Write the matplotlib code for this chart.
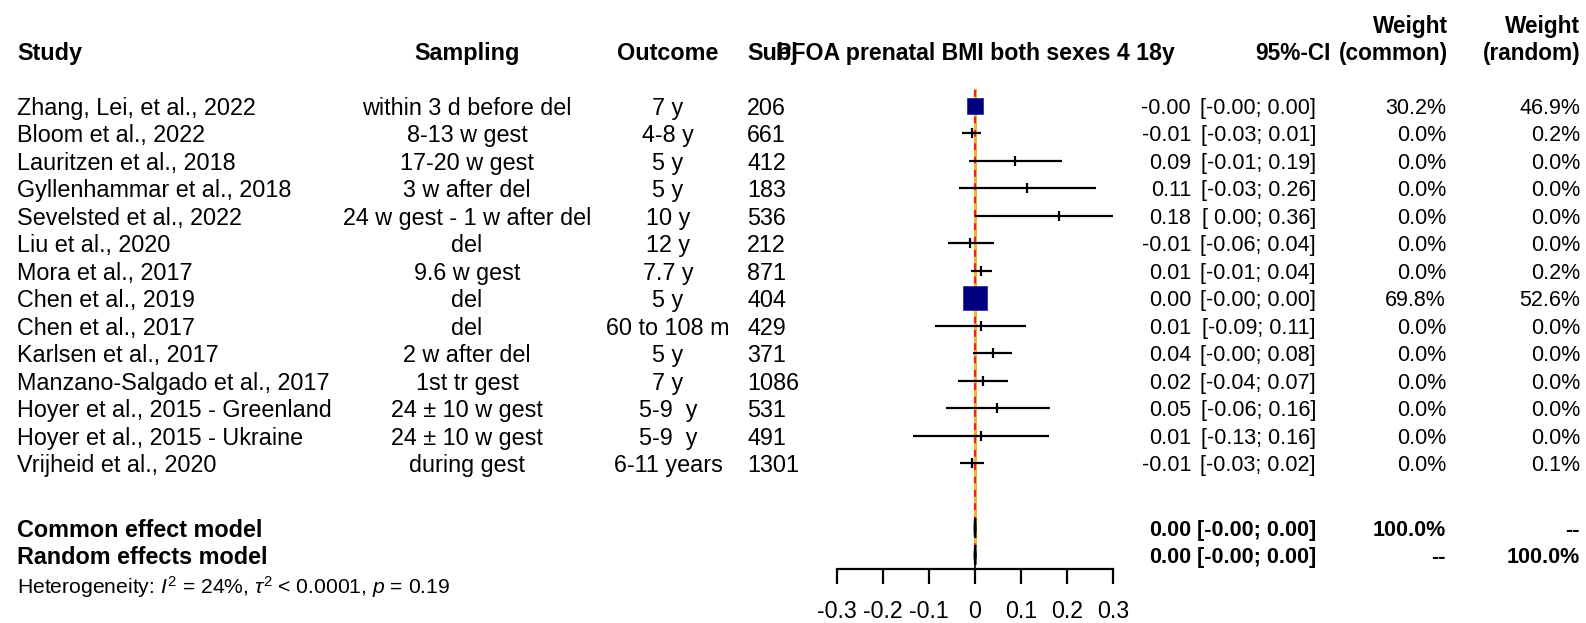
import numpy as np
import matplotlib.pyplot as plt
from matplotlib import transforms

plt.rcParams['font.family'] = ['Liberation Sans', 'DejaVu Sans']
plt.rcParams['mathtext.fontset'] = 'custom'
plt.rcParams['mathtext.rm'] = 'Liberation Sans'
plt.rcParams['mathtext.it'] = 'Liberation Sans:italic'

# Study table
studies = ['Zhang, Lei, et al., 2022', 'Bloom et al., 2022', 'Lauritzen et al., 2018',
           'Gyllenhammar et al., 2018', 'Sevelsted et al., 2022', 'Liu et al., 2020',
           'Mora et al., 2017', 'Chen et al., 2019', 'Chen et al., 2017',
           'Karlsen et al., 2017', 'Manzano-Salgado et al., 2017',
           'Hoyer et al., 2015 - Greenland', 'Hoyer et al., 2015 - Ukraine',
           'Vrijheid et al., 2020']
sampling = ['within 3 d before del', '8-13 w gest', '17-20 w gest', '3 w after del',
            '24 w gest - 1 w after del', 'del', '9.6 w gest', 'del', 'del',
            '2 w after del', '1st tr gest', '24 \u00b1 10 w gest', '24 \u00b1 10 w gest',
            'during gest']
outcome = ['7 y', '4-8 y', '5 y', '5 y', '10 y', '12 y', '7.7 y', '5 y', '60 to 108 m',
           '5 y', '7 y', '5-9  y', '5-9  y', '6-11 years']
subj = [206, 661, 412, 183, 536, 212, 871, 404, 429, 371, 1086, 531, 491, 1301]

# effect estimates and 95% CI
est = [-0.001, -0.007, 0.087, 0.113, 0.183, -0.011, 0.014, 0.0005, 0.012, 0.039,
       0.017, 0.048, 0.013, -0.007]
ci_lo = [-0.003, -0.028, -0.013, -0.034, 0.001, -0.059, -0.009, -0.002, -0.086,
         -0.004, -0.037, -0.063, -0.134, -0.033]
ci_hi = [0.001, 0.014, 0.190, 0.264, 0.363, 0.041, 0.037, 0.003, 0.111, 0.080,
         0.071, 0.162, 0.160, 0.020]
w_common = [30.2, 0.0, 0.0, 0.0, 0.0, 0.0, 0.0, 69.8, 0.0, 0.0, 0.0, 0.0, 0.0, 0.0]
w_random = [46.9, 0.2, 0.0, 0.0, 0.0, 0.0, 0.2, 52.6, 0.0, 0.0, 0.0, 0.0, 0.0, 0.1]

# pooled estimates: est, lower, upper
common_model = [0.0003, -0.0009, 0.0015]
random_model = [0.0004, -0.0010, 0.0018]

title = 'PFOA prenatal BMI both sexes 4 18y'
ticks = [-0.3, -0.2, -0.1, 0, 0.1, 0.2, 0.3]
tick_labels = ['-0.3', '-0.2', '-0.1', '0', '0.1', '0.2', '0.3']

W, H = 1586, 623
fig = plt.figure(figsize=(W / 100, H / 100), dpi=100)

# forest panel, rows are data units (row 0 = first study)
x0, x1 = 837, 1113
row0, row_h = 106, 27.46
ax = fig.add_axes([x0 / W, 0, (x1 - x0) / W, 1])
ax.set_xlim(-0.3, 0.3)
ax.set_ylim((H - row0) / row_h, -row0 / row_h)
ax.patch.set_visible(False)

n = len(studies)
rows = np.arange(n)
gap = 1.37
r_common = n + gap
r_random = r_common + 0.98
r_het = r_random + 1.05
axis_row = (569 - row0) / row_h
top_row = (90 - row0) / row_h

trans = transforms.blended_transform_factory(fig.transFigure, ax.transData)
fs = 16.8      # left columns
fs_r = 15.5    # right-hand values
fs_h = 16.3    # right-hand headers
navy = '#00007f'


def put(px, row, s, ha='left', bold=False, size=fs, **kw):
    ax.text(px / W, row, s, transform=trans, ha=ha, va='center_baseline',
            fontsize=size, fontweight='bold' if bold else 'normal', **kw)


# reference lines
ax.plot([0, 0], [top_row, axis_row], color='black', lw=1.2, zorder=1)
ax.plot([random_model[0]] * 2, [top_row, r_random - 0.35], color='#f2b233', lw=2.2, zorder=2)
ax.plot([random_model[0]] * 2, [top_row, r_random - 0.35], color='#ee2222', lw=1.6,
        dashes=(3, 3), zorder=3)

# study CIs, estimates and weight squares
ax.hlines(rows, ci_lo, ci_hi, color='black', lw=1.6, zorder=4)
ax.plot(est, rows, ls='none', marker='|', ms=6.5, mew=1.6, color='black', zorder=5)
for r, e, w in zip(rows, est, w_common):
    side = 29.9 * np.sqrt(w / 100)
    if side > 2:
        ax.plot(e, r, marker='s', ms=side * 0.72, color=navy, mec='#3030a0', mew=0.6,
                zorder=6)

# pooled diamonds
for r, (e, lo, hi) in ((r_common, common_model), (r_random, random_model)):
    ax.fill([lo, e, hi, e], [r, r - 0.36, r, r + 0.36], facecolor='gray',
            edgecolor='black', lw=1.6, zorder=6)

# x axis
for side in ['top', 'left', 'right']:
    ax.spines[side].set_visible(False)
ax.spines['bottom'].set_position(('data', axis_row))
ax.spines['bottom'].set_linewidth(1.6)
ax.set_yticks([])
ax.set_xticks(ticks)
ax.set_xticklabels(tick_labels)
ax.tick_params(axis='x', direction='out', length=11, width=1.6, pad=11.5, labelsize=16.7)

# header
put(17, -2, 'Study', bold=True)
put(467, -2, 'Sampling', ha='center', bold=True)
put(668, -2, 'Outcome', ha='center', bold=True)
put(747, -2, 'Subj', bold=True)
ax.text(0.5, -2, title, transform=transforms.blended_transform_factory(ax.transAxes, ax.transData),
        ha='center', va='center_baseline', fontsize=16.7, fontweight='bold')
put(1331, -2, '95%-CI', ha='right', bold=True, size=fs_h)
put(1448, -3, 'Weight', ha='right', bold=True, size=fs_h)
put(1448, -2, '(common)', ha='right', bold=True, size=fs_h)
put(1580, -3, 'Weight', ha='right', bold=True, size=fs_h)
put(1580, -2, '(random)', ha='right', bold=True, size=fs_h)

# study rows
for i in range(n):
    put(17, i, studies[i])
    put(467, i, sampling[i], ha='center')
    put(668, i, outcome[i], ha='center')
    put(747, i, str(subj[i]))
    put(1191, i, f'{est[i]:.2f}', ha='right', size=fs_r)
    put(1316, i, f'[{ci_lo[i]:5.2f}; {ci_hi[i]:.2f}]', ha='right', size=fs_r)
    put(1446, i, f'{w_common[i]:.1f}%', ha='right', size=fs_r)
    put(1580, i, f'{w_random[i]:.1f}%', ha='right', size=fs_r)

# pooled rows
for r, label, (e, lo, hi), wc, wr in ((r_common, 'Common effect model', common_model, '100.0%', '--'),
                                      (r_random, 'Random effects model', random_model, '--', '100.0%')):
    put(17, r, label, bold=True)
    put(1191, r, f'{e:.2f}', ha='right', bold=True, size=fs_r)
    put(1316, r, f'[{lo:5.2f}; {hi:.2f}]', ha='right', bold=True, size=fs_r)
    put(1446, r, wc, ha='right', bold=True, size=fs_r)
    put(1580, r, wr, ha='right', bold=True, size=fs_r)

put(17, r_het, r'Heterogeneity: $I^2$ = 24%, $\tau^2$ < 0.0001, $p$ = 0.19', size=15.2)

fig.savefig('out.png', dpi=100)
